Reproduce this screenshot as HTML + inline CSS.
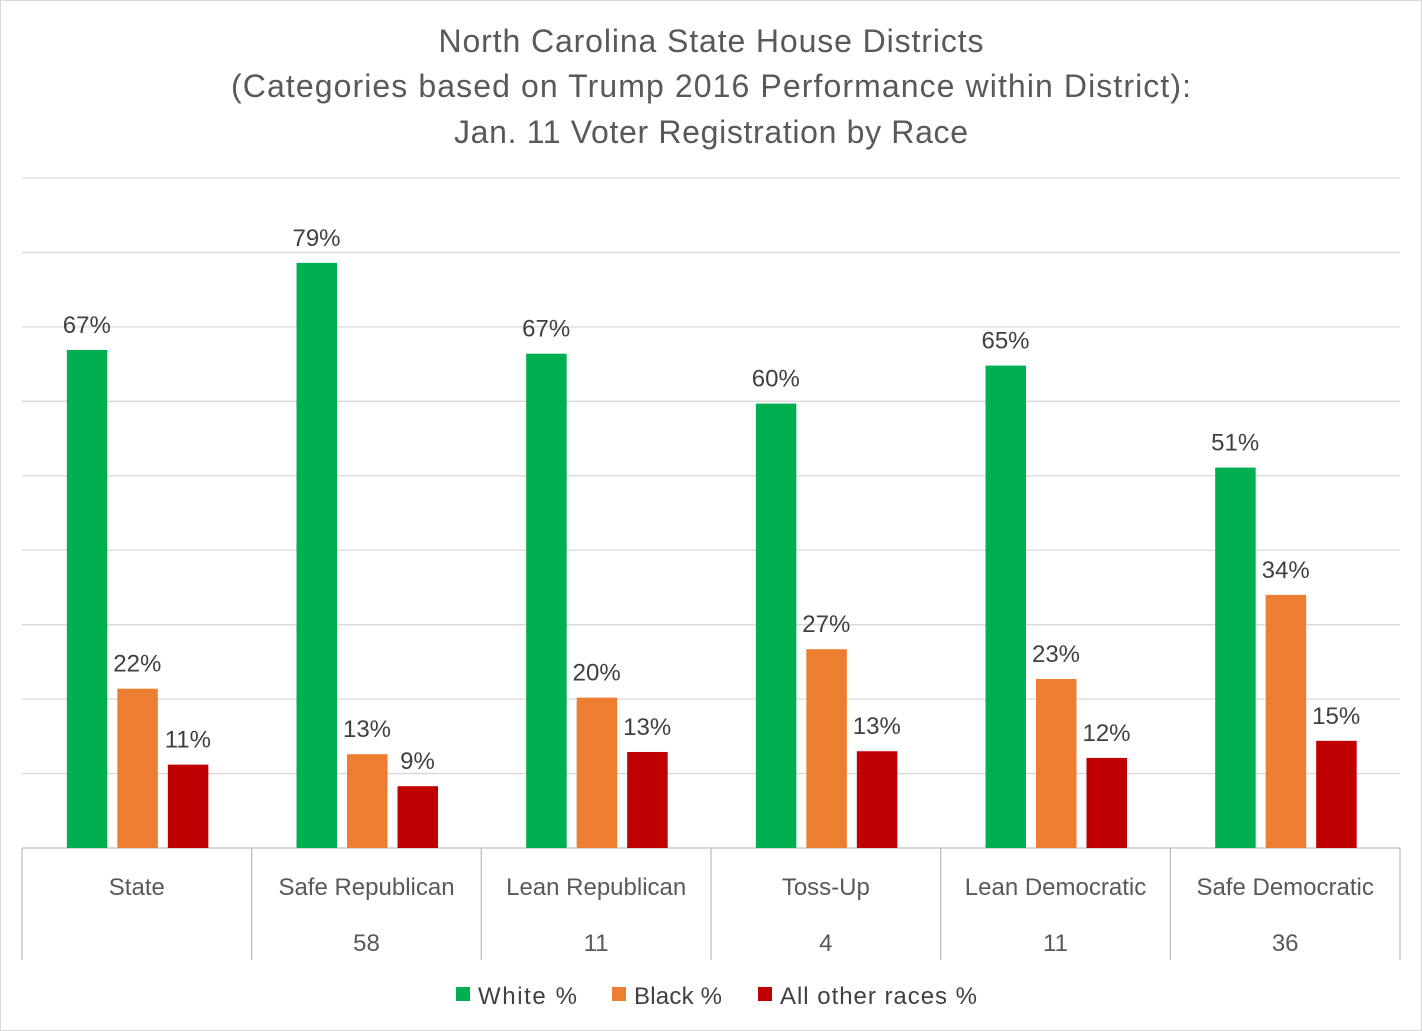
<!DOCTYPE html>
<html><head><meta charset="utf-8"><style>
body{margin:0;background:#fff;}
svg{display:block;font-family:"Liberation Sans","DejaVu Sans",sans-serif;}
</style></head><body>
<svg id="chart" width="1422" height="1031">
<rect x="0.5" y="0.5" width="1421" height="1030" fill="#fff" stroke="#d9d9d9"/>
<g fill="#595959" font-size="32" text-anchor="middle">
<text x="711" y="52" textLength="545">North Carolina State House Districts</text>
<text x="711" y="97" textLength="960">(Categories based on Trump 2016 Performance within District):</text>
<text x="711" y="143" textLength="514">Jan. 11 Voter Registration by Race</text>
</g>
<g id="grid"></g><g id="bars"></g><g id="labels"></g><g id="axis"></g>
<g font-size="24" fill="#404040">
<rect x="456" y="987" width="14" height="14" fill="#00b050"/>
<text x="478" y="1004" textLength="99">White %</text>
<rect x="612" y="987" width="14" height="14" fill="#ed7d31"/>
<text x="634" y="1004" textLength="88">Black %</text>
<rect x="758" y="987" width="14" height="14" fill="#c00000"/>
<text x="780" y="1004" textLength="197">All other races %</text>
</g>
</svg>
<script>
const categories=["State","Safe Republican","Lean Republican","Toss-Up","Lean Democratic","Safe Democratic"];
const counts=["","58","11","4","11","36"];
const white=[66.9,78.6,66.4,59.7,64.8,51.1];
const black=[21.4,12.6,20.2,26.7,22.7,34.0];
const other=[11.2,8.3,12.9,13.0,12.1,14.4];
const whiteLabels=["67%","79%","67%","60%","65%","51%"];
const blackLabels=["22%","13%","20%","27%","23%","34%"];
const otherLabels=["11%","9%","13%","13%","12%","15%"];
const yTicks=[0,10,20,30,40,50,60,70,80,90];
const NS="http://www.w3.org/2000/svg";
const x0=22,x1=1400,yBase=848,yTop=178,yMax=90;
const bw=(x1-x0)/categories.length;
function y(v){return yBase-(v/yMax)*(yBase-yTop);}
function mk(tag,attrs,parent){const e=document.createElementNS(NS,tag);for(const k in attrs)e.setAttribute(k,attrs[k]);document.getElementById(parent).appendChild(e);return e;}
yTicks.forEach(t=>{const l=mk('line',{x1:x0,x2:x1,y1:y(t),y2:y(t),stroke:t===0?'#bfbfbf':'#d9d9d9','stroke-width':1.3},'grid');

});
const series=[[white,whiteLabels,'#00b050','white'],[black,blackLabels,'#ed7d31','black'],[other,otherLabels,'#c00000','other']];
categories.forEach((c,i)=>{
 const cx=x0+bw*(i+0.5);
 series.forEach((s,j)=>{
  const bx=cx-70+j*50.5, v=s[0][i];
  const r=mk('rect',{x:bx,y:y(v),width:40.5,height:yBase-y(v),fill:s[2]},'bars');
  
  
  const t=mk('text',{x:bx+20,y:y(v)-17,'text-anchor':'middle','font-size':24,fill:'#404040'},'labels');
  t.textContent=s[1][i];
  
  
 });
 const t=mk('text',{x:cx,y:895,'text-anchor':'middle','font-size':24,fill:'#595959'},'axis');
 t.textContent=c;
 
 
 const n=mk('text',{x:cx,y:951,'text-anchor':'middle','font-size':24,fill:'#595959'},'axis');
 n.textContent=counts[i];
 
 
});
for(let i=0;i<=categories.length;i++){
 const xx=x0+bw*i;
 const l=mk('line',{x1:xx,x2:xx,y1:848,y2:960,stroke:'#bfbfbf','stroke-width':1.3},'axis');
 
 
}
</script>
</body></html>
